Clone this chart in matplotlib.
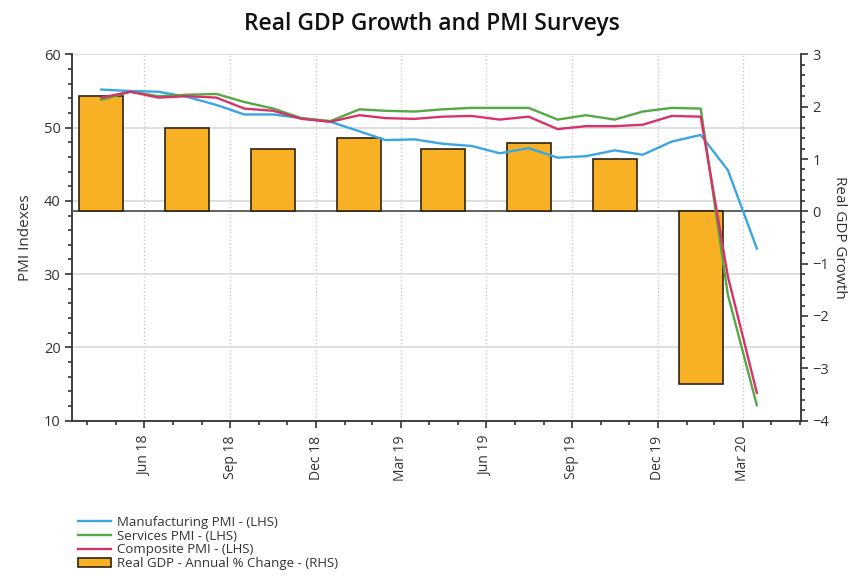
import matplotlib
matplotlib.use("Agg")
import matplotlib.pyplot as plt
import matplotlib.dates as mdates
from matplotlib.lines import Line2D
from matplotlib.patches import Patch
import pandas as pd

plt.rcParams['font.family'] = ['Open Sans', 'DejaVu Sans']

# monthly PMI readings, May 2018 - Apr 2020 (plotted mid-month)
months = pd.date_range('2018-05-01', '2020-04-01', freq='MS') + pd.Timedelta(days=14)
manufacturing = [55.2, 55.0, 54.9, 54.2, 53.1, 51.8, 51.8, 51.3, 50.8, 49.5, 48.3, 48.4,
                 47.8, 47.5, 46.5, 47.2, 45.9, 46.1, 46.9, 46.3, 48.1, 49.0, 44.2, 33.5]
services = [53.8, 54.9, 54.3, 54.5, 54.6, 53.5, 52.6, 51.3, 50.9, 52.5, 52.3, 52.2,
            52.5, 52.7, 52.7, 52.7, 51.1, 51.7, 51.1, 52.2, 52.7, 52.6, 27.2, 12.1]
composite = [54.1, 54.9, 54.1, 54.3, 54.1, 52.6, 52.3, 51.2, 50.8, 51.7, 51.3, 51.2,
             51.5, 51.6, 51.1, 51.5, 49.8, 50.2, 50.2, 50.4, 51.6, 51.5, 29.7, 13.8]

# quarterly GDP, centred on the middle month of each quarter
quarters = pd.date_range('2018-05-01', periods=8, freq='3MS') + pd.Timedelta(days=14)
gdp = [2.2, 1.6, 1.2, 1.4, 1.2, 1.3, 1.0, -3.3]

c_mfg = '#3AA6E0'
c_serv = '#55A844'
c_comp = '#D6336B'
c_bar = '#F8B124'

fig = plt.figure(figsize=(8.51, 5.85), dpi=100)
ax = fig.add_axes([0.085, 0.281, 0.856, 0.626])
axr = ax.twinx()
axl = ax.twinx()
ax.set_zorder(0)
axr.set_zorder(1)
axl.set_zorder(2)
axr.patch.set_visible(False)
axl.patch.set_visible(False)

xmin, xmax = pd.Timestamp('2018-04-14'), pd.Timestamp('2020-06-01')
major = pd.date_range('2018-07-01', periods=8, freq='3MS') - pd.Timedelta(days=1)
minor = pd.date_range('2018-05-01', '2020-06-01', freq='MS') - pd.Timedelta(days=1)

# background axis: grid, left ticks, date ticks
ax.set_xlim(xmin, xmax)
ax.set_ylim(10, 60)
ax.set_yticks(range(10, 61, 10))
ax.set_yticks(range(10, 61, 2), minor=True)
ax.set_xticks(major)
ax.set_xticks(minor, minor=True)
ax.xaxis.set_major_formatter(mdates.DateFormatter('%b %y'))
ax.tick_params(axis='x', which='major', rotation=90, labelsize=10, length=5,
               width=1.2, colors='#333333', pad=6)
ax.tick_params(axis='x', which='minor', length=3, width=1.2, color='#333333')
ax.tick_params(axis='y', which='major', labelsize=10.5, length=5, width=1.2,
               colors='#333333')
ax.tick_params(axis='y', which='minor', length=3, width=1.2, color='#333333')
ax.grid(axis='y', which='major', color='#d9d9d9', lw=1.2, ls='-')
ax.grid(axis='x', which='major', color='#c8c8c8', lw=1, ls=':')
for s in ['top', 'right']:
    ax.spines[s].set_visible(False)
for s in ['left', 'bottom']:
    ax.spines[s].set_color('#333333')
    ax.spines[s].set_linewidth(1.3)
ax.set_ylabel('PMI Indexes', fontsize=11, color='#333333', labelpad=8)

# bars on the right axis
axr.set_ylim(-4, 3)
axr.set_yticks(range(-4, 4))
axr.set_yticks([v / 5 for v in range(-20, 16)], minor=True)
axr.axhline(0, color='#555555', lw=1.3, zorder=0.5)
axr.bar(quarters, gdp, width=47, color=c_bar, edgecolor='#2e2310', lw=1.2, zorder=2)
axr.tick_params(axis='y', which='major', labelsize=10.5, length=5, width=1.2,
                colors='#333333')
axr.tick_params(axis='y', which='minor', length=3, width=1.2, color='#333333')
for s in ['top', 'left', 'bottom']:
    axr.spines[s].set_visible(False)
axr.spines['right'].set_color('#333333')
axr.spines['right'].set_linewidth(1.3)
axr.set_ylabel('Real GDP Growth', fontsize=11, color='#333333', rotation=270,
               labelpad=13)

# lines on top, in PMI units
axl.set_ylim(10, 60)
axl.set_xlim(xmin, xmax)
axl.plot(months, manufacturing, color=c_mfg, lw=1.7)
axl.plot(months, services, color=c_serv, lw=1.7)
axl.plot(months, composite, color=c_comp, lw=1.7)
axl.set_yticks([])
for s in axl.spines.values():
    s.set_visible(False)

fig.suptitle('Real GDP Growth and PMI Surveys', x=0.508, y=0.98, fontsize=16.5,
             fontweight='semibold', color='#111111')

handles = [Line2D([], [], color=c_mfg, lw=1.7),
           Line2D([], [], color=c_serv, lw=1.7),
           Line2D([], [], color=c_comp, lw=1.7),
           Patch(facecolor=c_bar, edgecolor='#2e2310', lw=1.2)]
labels = ['Manufacturing PMI - (LHS)', 'Services PMI - (LHS)',
          'Composite PMI - (LHS)', 'Real GDP - Annual % Change - (RHS)']
fig.legend(handles, labels, loc='upper left', bbox_to_anchor=(0.092, 0.118),
           frameon=False, fontsize=9.5, handlelength=2.5, handletextpad=0.4,
           labelspacing=0.05, borderpad=0, borderaxespad=0, labelcolor='#333333')

fig.savefig('out.png', dpi=100)
